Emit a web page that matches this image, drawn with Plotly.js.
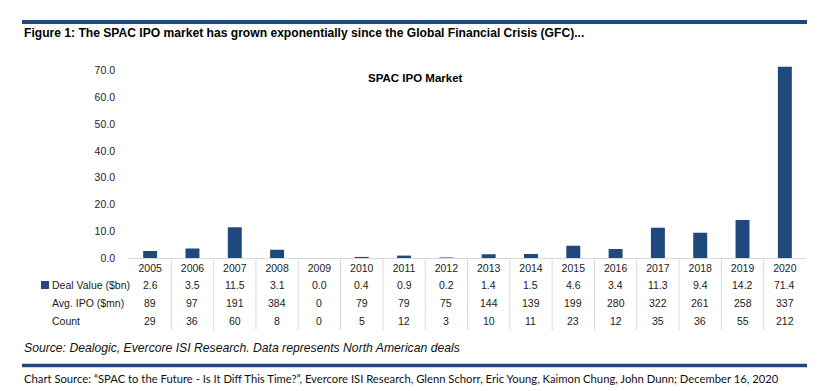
<!DOCTYPE html>
<html>
<head>
<meta charset="utf-8">
<script src="https://cdn.plot.ly/plotly-3.0.1.min.js"></script>
<style>
html,body{margin:0;padding:0;background:#fff;}
#chart{width:825px;height:391px;}
</style>
</head>
<body>
<div id="chart"></div>
<script>
// ---- data ----
const years = ["2005","2006","2007","2008","2009","2010","2011","2012","2013","2014","2015","2016","2017","2018","2019","2020"];
const dealValue = [2.6,3.5,11.5,3.1,0.0,0.4,0.9,0.2,1.4,1.5,4.6,3.4,11.3,9.4,14.2,71.4];
const avgIPO = [89,97,191,384,0,79,79,75,144,139,199,280,322,261,258,337];
const count = [29,36,60,8,0,5,12,3,10,11,23,12,35,36,55,212];
const yTicks = [0,10,20,30,40,50,60,70];
const rowLabels = ["Deal Value ($bn)","Avg. IPO ($mn)","Count"];

// ---- layout helpers ----
const W = 825, H = 391;
const py = px => 1 - px / H;
const px2x = px => px / W;
const navy = "#1F497D";
const txt = "#222222";
const FONT = "Liberation Sans, Arial, sans-serif";

// fit a text to a target pixel width (used for the footer line)
function fitSize(text, family, targetW, weight) {
  const c = document.createElement("canvas").getContext("2d");
  c.font = (weight || "") + " 20px " + family;
  return 20 * targetW / c.measureText(text).width;
}

const annotations = [];
const shapes = [];

// table rows
const rowY = [285, 302.5, 320.5];
const rowData = [dealValue.map(v => v.toFixed(1)), avgIPO.map(String), count.map(String)];
rowData.forEach((row, r) => {
  row.forEach((v, i) => {
    annotations.push({x: i, xref: "x", y: py(rowY[r]), yref: "paper", text: v,
      showarrow: false, xanchor: "center", yanchor: "middle", font: {family: FONT, size: 10.5, color: txt}});
  });
  annotations.push({x: px2x(50), xref: "paper", y: py(rowY[r]), yref: "paper", text: rowLabels[r],
    showarrow: false, xanchor: "left", yanchor: "middle", font: {family: FONT, size: 10.5, color: txt}});
});
// legend square
shapes.push({type: "rect", xref: "paper", yref: "paper", x0: px2x(41), x1: px2x(49), y0: py(289), y1: py(281),
  fillcolor: navy, line: {width: 0}});
// table vertical separators
for (let i = 0; i < years.length - 1; i++) {
  shapes.push({type: "line", xref: "x", yref: "paper", x0: i + 0.5, x1: i + 0.5, y0: py(258), y1: py(330),
    line: {color: "#d9d9d9", width: 1}});
}
// rules
shapes.push({type: "line", xref: "paper", yref: "paper", x0: px2x(22), x1: px2x(807), y0: py(22), y1: py(22),
  line: {color: navy, width: 4}});
shapes.push({type: "line", xref: "paper", yref: "paper", x0: px2x(22), x1: px2x(807), y0: py(365.5), y1: py(365.5),
  line: {color: navy, width: 3.5}});

// texts
annotations.push({x: px2x(22), xref: "paper", y: py(33), yref: "paper", xanchor: "left", yanchor: "middle", showarrow: false,
  text: "<b>Figure 1: The SPAC IPO market has grown exponentially since the Global Financial Crisis (GFC)...</b>",
  font: {family: FONT, size: 12.1, color: "#000"}});
annotations.push({x: px2x(415), xref: "paper", y: py(78), yref: "paper", xanchor: "center", yanchor: "middle", showarrow: false,
  text: "<b>SPAC IPO Market</b>", font: {family: FONT, size: 11.5, color: "#000"}});
annotations.push({x: px2x(22), xref: "paper", y: py(348), yref: "paper", xanchor: "left", yanchor: "middle", showarrow: false,
  text: "<i>Source: Dealogic, Evercore ISI Research. Data represents North American deals</i>",
  font: {family: FONT, size: 12.2, color: "#111"}});
const footer = "Chart Source: \u201cSPAC to the Future - Is It Diff This Time?\u201d, Evercore ISI Research, Glenn Schorr, Eric Young, Kaimon Chung, John Dunn; December 16, 2020";
const footFam = "Lato, Liberation Sans, sans-serif";
annotations.push({x: px2x(22), xref: "paper", y: py(378.5), yref: "paper", xanchor: "left", yanchor: "middle", showarrow: false,
  text: footer, font: {family: footFam, size: fitSize(footer, "Lato", 757), color: "#111"}});

const trace = {
  type: "bar", x: years, y: dealValue, width: 0.33,
  marker: {color: navy, line: {width: 0}},
  hoverinfo: "x+y"
};

const layout = {
  width: W, height: H,
  margin: {l: 0, r: 0, t: 0, b: 0},
  paper_bgcolor: "#fff", plot_bgcolor: "#fff",
  showlegend: false,
  font: {family: FONT, size: 10.5, color: txt},
  xaxis: {
    type: "category", domain: [129 / W, 806 / W], range: [-0.5, 15.5],
    showline: true, linecolor: "#d9d9d9", linewidth: 1, showgrid: false, zeroline: false,
    ticks: "", tickfont: {family: FONT, size: 10.5, color: txt}, fixedrange: true
  },
  yaxis: {
    domain: [py(258), py(258 - 72 * 2.678)], range: [0, 72],
    tickvals: yTicks, tickformat: ".1f", ticks: "", ticklabelstandoff: 13,
    showline: false, showgrid: false, zeroline: false,
    tickfont: {family: FONT, size: 10.5, color: txt}, fixedrange: true
  },
  annotations: annotations,
  shapes: shapes
};

document.fonts.load("20px Lato").then(() => {
  annotations[annotations.length - 1].font.size = fitSize(footer, "Lato", 757);
  Plotly.newPlot("chart", [trace], layout, {displayModeBar: false, staticPlot: true});
}, () => Plotly.newPlot("chart", [trace], layout, {displayModeBar: false, staticPlot: true}));
</script>
</body>
</html>
